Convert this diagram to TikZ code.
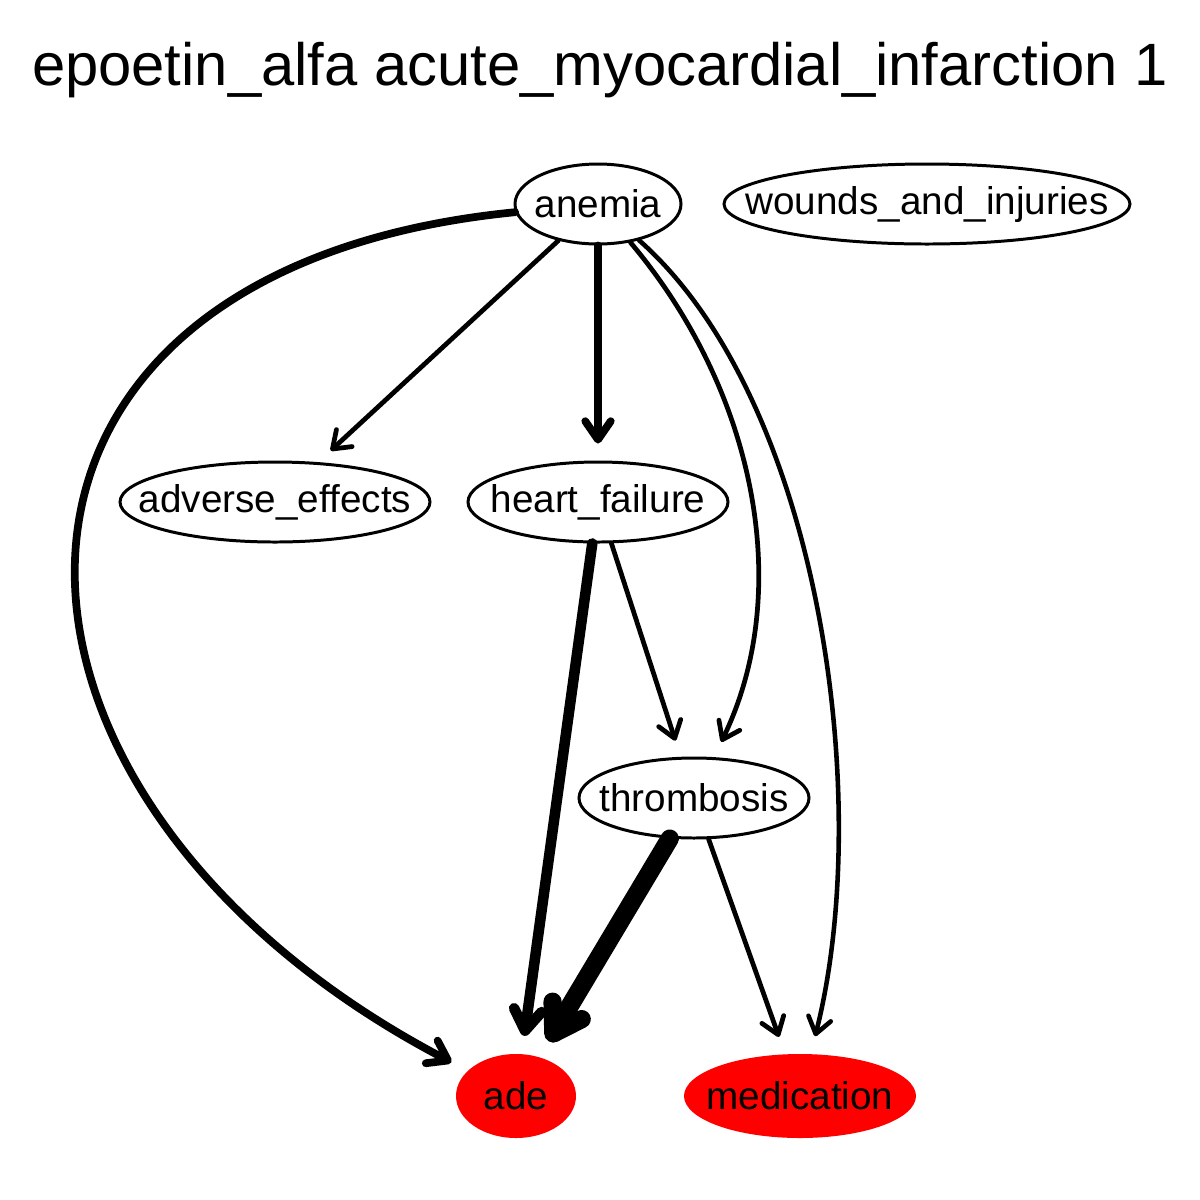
\documentclass[tikz,border=0pt]{standalone}
\usepackage{fontspec}
\setmainfont{Liberation Sans}
\usetikzlibrary{arrows.meta,shapes.geometric}

\begin{document}
\begin{tikzpicture}[
    var/.style={draw, ellipse, line width=0.85pt, inner xsep=-1.2cm, inner ysep=-0.2cm, minimum height=0.8cm, font=\fontsize{11}{13}\selectfont},
    outc/.style={var, draw=none, fill=red, minimum height=0.84cm},
    arr/.style={-{Straight Barb[round, length=3.5pt 0.8, width=5.5pt 0.8]}, line cap=round, shorten >=0.17cm}
]
\useasboundingbox (0,0) rectangle (12,-12);
\node[anchor=base, font=\fontsize{17}{20}\selectfont] (title) at (6.0,-0.85) {epoetin\_alfa acute\_myocardial\_infarction 1};

\node[var, minimum width=1.66cm] (anemia) at (5.98,-2.04) {anemia};
\node[var, minimum width=4.06cm] (wounds) at (9.27,-2.04) {wounds\_and\_injuries};
\node[var, minimum width=3.10cm] (adverse) at (2.75,-5.02) {adverse\_effects};
\node[var, minimum width=2.60cm] (heart) at (5.98,-5.02) {heart\_failure};
\node[var, minimum width=2.30cm] (thromb) at (6.94,-7.98) {thrombosis};
\node[outc, minimum width=1.20cm] (ade) at (5.16,-10.96) {ade};
\node[outc, minimum width=2.32cm] (medic) at (8.00,-10.96) {medication};

\draw[arr, line width=2.2pt] (anemia) .. controls (-0.70,-2.70) and (-0.50,-8.00) .. (ade);
\draw[arr, line width=1.35pt] (anemia) -- (adverse);
\draw[arr, line width=2.2pt] (anemia) -- (heart);
\draw[arr, line width=1.35pt] (anemia) .. controls (7.55,-3.90) and (7.95,-5.90) .. (thromb);
\draw[arr, line width=1.3pt] (anemia) .. controls (8.20,-4.00) and (8.75,-8.00) .. (medic);
\draw[arr, line width=3pt] (heart) -- (ade);
\draw[arr, line width=1.35pt] (heart) -- (thromb);
\draw[arr, line width=5.2pt] (thromb) -- (ade);
\draw[arr, line width=1.35pt] (thromb) -- (medic);
\end{tikzpicture}
\end{document}
